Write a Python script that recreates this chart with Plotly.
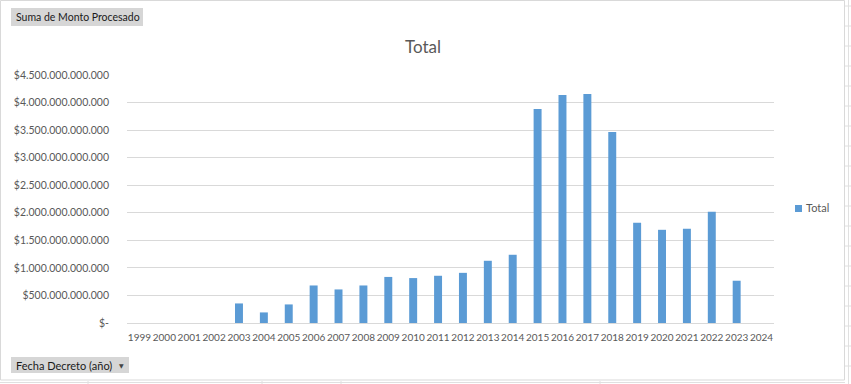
import plotly.graph_objects as go

# ---- data ----
years = [str(y) for y in range(1999, 2025)]
totals = [None, None, None, None,
          0.355e12, 0.192e12, 0.337e12, 0.681e12, 0.609e12, 0.681e12,
          0.836e12, 0.815e12, 0.857e12, 0.910e12, 1.129e12, 1.238e12,
          3.884e12, 4.137e12, 4.155e12, 3.467e12, 1.818e12, 1.691e12,
          1.709e12, 2.017e12, 0.767e12, None]
y_tickvals = [0, 0.5e12, 1.0e12, 1.5e12, 2.0e12, 2.5e12, 3.0e12, 3.5e12, 4.0e12, 4.5e12]
y_ticktext = ["$-", "$500.000.000.000", "$1.000.000.000.000", "$1.500.000.000.000",
              "$2.000.000.000.000", "$2.500.000.000.000", "$3.000.000.000.000",
              "$3.500.000.000.000", "$4.000.000.000.000", "$4.500.000.000.000"]
series_name = "Total"
chart_title = "Total"
value_field = "Suma de Monto Procesado"
axis_field = "Fecha Decreto (año)"

BAR = "#5b9bd5"
TXT = "#595959"
GRID = "#d9d9d9"
FONT = "Lato"

W, H = 851, 384
L, R, T, B = 127, 77, 75, 61
PW, PH = W - L - R, H - T - B


def px(x):
    return (x - L) / PW


def py(y):
    return (H - B - y) / PH


fig = go.Figure()
fig.add_trace(go.Bar(x=years, y=totals, name=series_name, marker_color=BAR,
                     marker_line_width=0, showlegend=False))

shapes = []
annotations = []

# chart border
shapes.append(dict(type="rect", xref="paper", yref="paper",
                   x0=px(0.5), x1=px(844.5), y0=py(380), y1=py(0.5),
                   line=dict(color=GRID, width=1), fillcolor="rgba(0,0,0,0)", layer="below"))
# spreadsheet cell lines outside chart
shapes.append(dict(type="line", xref="paper", yref="paper",
                   x0=px(848.5), x1=px(848.5), y0=py(0), y1=py(384),
                   line=dict(color="#e0e0e0", width=1)))
for ry in range(6, 384, 20):
    shapes.append(dict(type="line", xref="paper", yref="paper",
                       x0=px(845), x1=px(851), y0=py(ry), y1=py(ry),
                       line=dict(color="#e0e0e0", width=1)))
shapes.append(dict(type="line", xref="paper", yref="paper",
                   x0=px(0), x1=px(845), y0=py(382.5), y1=py(382.5),
                   line=dict(color="#e0e0e0", width=1)))
for cx in [88, 262, 341, 600]:
    shapes.append(dict(type="line", xref="paper", yref="paper",
                       x0=px(cx), x1=px(cx), y0=py(381), y1=py(384),
                       line=dict(color="#e0e0e0", width=1)))

# field buttons
shapes.append(dict(type="rect", xref="paper", yref="paper",
                   x0=px(11), x1=px(143), y0=py(26), y1=py(8),
                   line=dict(width=0), fillcolor="#d6d6d6"))
annotations.append(dict(xref="paper", yref="paper", x=px(14), y=py(17),
                        xanchor="left", yanchor="middle", showarrow=False,
                        text=value_field, font=dict(family=FONT, size=10.5, color="#1a1a1a")))
shapes.append(dict(type="rect", xref="paper", yref="paper",
                   x0=px(11), x1=px(129), y0=py(373), y1=py(357),
                   line=dict(width=0), fillcolor="#d6d6d6"))
annotations.append(dict(xref="paper", yref="paper", x=px(14), y=py(365),
                        xanchor="left", yanchor="middle", showarrow=False,
                        text=axis_field, font=dict(family=FONT, size=11, color="#1a1a1a")))
annotations.append(dict(xref="paper", yref="paper", x=px(121), y=py(365),
                        xanchor="center", yanchor="middle", showarrow=False,
                        text="▼", font=dict(family="DejaVu Sans", size=6, color="#444444")))

# legend
shapes.append(dict(type="rect", xref="paper", yref="paper",
                   x0=px(795), x1=px(802), y0=py(212), y1=py(205),
                   line=dict(width=0), fillcolor=BAR))
annotations.append(dict(xref="paper", yref="paper", x=px(804), y=py(207.5),
                        xanchor="left", yanchor="middle", showarrow=False,
                        text=series_name, font=dict(family=FONT, size=11, color=TXT)))

fig.update_layout(
    width=W, height=H,
    margin=dict(l=L, r=R, t=T, b=B, autoexpand=False),
    paper_bgcolor="white", plot_bgcolor="white",
    font=dict(family=FONT, size=10.5, color=TXT),
    title=dict(text=chart_title, x=px(423), xref="paper", xanchor="center",
               y=1 - 47 / H, yref="container", yanchor="middle",
               font=dict(family=FONT, size=17, color=TXT)),
    bargap=0.68,
    showlegend=False,
    shapes=shapes,
    annotations=annotations,
)
fig.update_xaxes(type="category", categoryorder="array", categoryarray=years,
                 tickangle=0, showgrid=False, showline=True, linecolor=GRID,
                 linewidth=1, ticks="", ticklabelstandoff=5,
                 tickfont=dict(family=FONT, size=10, color=TXT))
fig.update_yaxes(range=[0, 4.5e12], tickvals=y_tickvals, ticktext=y_ticktext,
                 showgrid=True, gridcolor=GRID, gridwidth=1, zeroline=False,
                 showline=False, ticks="", ticklabelstandoff=17,
                 tickfont=dict(family=FONT, size=10.5, color=TXT))

fig.write_html("out.html",
               config={"displayModeBar": False},
               post_script="document.body.style.margin='0';document.body.style.padding='0';"
                           "document.documentElement.style.overflow='hidden';")
